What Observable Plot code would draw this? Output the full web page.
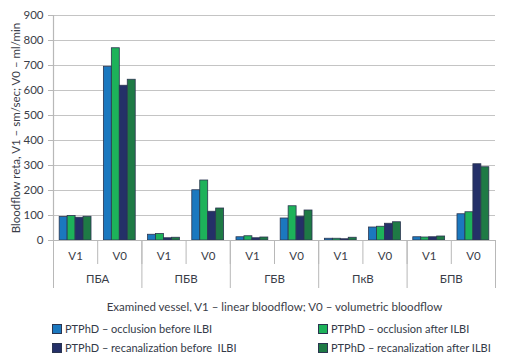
<!DOCTYPE html>
<html>
<head>
<meta charset="utf-8">
<script src="https://cdn.jsdelivr.net/npm/d3@7"></script>
<script src="https://cdn.jsdelivr.net/npm/@observablehq/plot@0.6"></script>
<style>
  html, body { margin: 0; padding: 0; background: #fff; }
  body { width: 507px; height: 363px; overflow: hidden; font-family: Lato, sans-serif; }
  #legend { position: relative; height: 51px; font-size: 11px; color: #333a48; }
  .item { position: absolute; display: flex; align-items: center; white-space: pre; }
  .sw { width: 8px; height: 8px; border: 1px solid #2b3550; margin-right: 3px; }
</style>
</head>
<body>
<div id="chart"></div>
<div id="legend"></div>
<script>
const groups = ["ПБА", "ПБВ", "ГБВ", "ПкВ", "БПВ"];
const measures = ["V1", "V0"];
const seriesNames = [
  "PTPhD – occlusion before ILBI",
  "PTPhD – occlusion after ILBI",
  "PTPhD – recanalization before  ILBI",
  "PTPhD – recanalization after ILBI"
];
const seriesColors = ["#1b78bf", "#1db25a", "#243068", "#1e7a45"];
// values ordered: ПБА V1, ПБА V0, ПБВ V1, ПБВ V0, ГБВ V1, ГБВ V0, ПкВ V1, ПкВ V0, БПВ V1, БПВ V0
const occlusionBefore    = [94, 695, 23, 201, 13, 88, 7, 52, 13, 105];
const occlusionAfter     = [98, 769, 26, 240, 17, 137, 7, 55, 12, 113];
const recanalizBefore    = [91, 619, 9, 115, 9, 95, 5, 67, 13, 305];
const recanalizAfter     = [95, 643, 11, 128, 12, 120, 11, 73, 16, 293];
const yTicks = [0, 100, 200, 300, 400, 500, 600, 700, 800, 900];

const seriesValues = [occlusionBefore, occlusionAfter, recanalizBefore, recanalizAfter];
const nSub = groups.length * measures.length;
const pad = 0.14, bw = (1 - 2 * pad) / seriesNames.length;
const rows = [];
seriesValues.forEach((vals, s) => {
  vals.forEach((v, k) => {
    rows.push({series: seriesNames[s], k, value: v, x1: k + pad + s * bw, x2: k + pad + (s + 1) * bw});
  });
});
const subCenters = d3.range(nSub).map(k => k + 0.5);
const groupCenters = d3.range(groups.length).map(g => g * 2 + 1);

const chart = Plot.plot({
  width: 507,
  height: 312,
  marginLeft: 53,
  marginRight: 12,
  marginTop: 15,
  marginBottom: 72,
  style: {fontFamily: "Lato, sans-serif", fontSize: "11px", color: "#3a3d48", background: "#fff"},
  x: {type: "linear", domain: [0, nSub], axis: null},
  y: {domain: [0, 900], axis: null},
  color: {domain: seriesNames, range: seriesColors},
  marks: [
    Plot.gridY(yTicks, {stroke: "#c4c4c4", strokeOpacity: 1, strokeWidth: 1.2}),
    Plot.axisY(yTicks, {tickSize: 5, tickPadding: 5, stroke: "#b8b8b8", fill: "#3a3d48", fontSize: 11.5,
      label: "Bloodflow reta, V1 – sm/sec; V0 – ml/min", labelAnchor: "center", labelArrow: "none", labelOffset: 42}),
    Plot.rectY(rows, {x1: "x1", x2: "x2", y: "value", fill: "series", stroke: "#2b3550", strokeWidth: 0.8}),
    Plot.ruleY([0], {stroke: "#b8b8b8", strokeWidth: 1.2}),
    Plot.ruleX([0], {y1: 0, y2: 900, stroke: "#b8b8b8", strokeWidth: 1.2}),
    Plot.axisX(d3.range(nSub + 1), {tickSize: 24, tickFormat: () => "", stroke: "#b8b8b8", label: null}),
    Plot.axisX(d3.range(0, nSub + 1, 2), {tickSize: 48, tickFormat: () => "", stroke: "#b8b8b8", label: null}),
    Plot.axisX(subCenters, {tickSize: 0, tickPadding: 11, fontSize: 11.5, tickFormat: d => measures[Math.floor(d) % 2], fill: "#3a3d48", label: null}),
    Plot.axisX(groupCenters, {tickSize: 0, tickPadding: 34, fontSize: 11.5, tickFormat: d => groups[Math.floor(d / 2)], fill: "#3a3d48",
      label: "Examined vessel, V1 – linear bloodflow; V0 – volumetric bloodflow", labelAnchor: "center", labelArrow: "none", labelOffset: 70})
  ]
});
document.getElementById("chart").appendChild(chart);

const legend = document.getElementById("legend");
const legendPos = [[52, 17], [318, 17], [52, 36], [318, 36]];
seriesNames.forEach((name, i) => {
  const it = document.createElement("div");
  it.className = "item";
  it.style.left = legendPos[i][0] + "px";
  it.style.top = (legendPos[i][1] - 7) + "px";
  const sw = document.createElement("span");
  sw.className = "sw";
  sw.style.background = seriesColors[i];
  it.appendChild(sw);
  const t = document.createElement("span");
  t.textContent = name;
  it.appendChild(t);
  legend.appendChild(it);
});
</script>
</body>
</html>
